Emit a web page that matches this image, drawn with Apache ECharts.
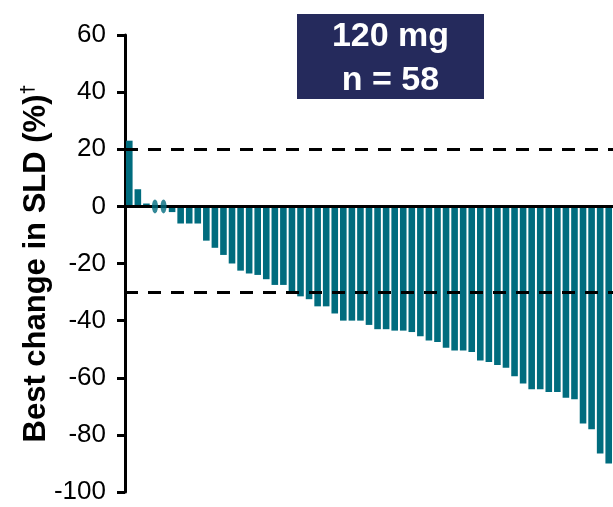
<!DOCTYPE html>
<html>
<head>
<meta charset="utf-8">
<script src="https://cdn.jsdelivr.net/npm/echarts@6/dist/echarts.min.js"></script>
<style>
  html, body { margin: 0; padding: 0; background: #fff; }
  #chart { width: 613px; height: 507px; }
</style>
</head>
<body>
<div id="chart"></div>
<script>
// ---- data ----
const patients = ["1","2","3","4","5","6","7","8","9","10","11","12","13","14","15","16","17","18","19","20",
  "21","22","23","24","25","26","27","28","29","30","31","32","33","34","35","36","37","38","39","40",
  "41","42","43","44","45","46","47","48","49","50","51","52","53","54","55","56","57"];
const bestChange = [23, 6, 1, null, null, -2, -6, -6, -6, -12, -14.5, -17, -20, -22.5, -23.5, -24, -25.5, -27.5, -27.5, -30,
  -31.5, -32.5, -35, -35, -37.5, -40, -40, -40, -41.5, -43, -43, -43.5, -43.5, -44, -45.5, -47, -47.5, -49.5, -50.5, -50.5,
  -51, -54, -54.5, -55.5, -56.5, -59.5, -62, -64, -64, -65, -65, -67, -67.5, -76, -78, -86.5, -90];
const zeroChangePatients = ["4", "5"];   // 0% change, drawn as ovals
const thresholds = [20, -30];            // dashed reference lines
const yTicks = { min: -100, max: 60, interval: 20 };
const boxLines = ["120 mg", "n = 58"];

const FONT = '"Liberation Sans", Arial, sans-serif';
const TEAL = '#006C7E';

const chart = echarts.init(document.getElementById('chart'), null, { renderer: 'canvas' });
chart.setOption({
  animation: false,
  backgroundColor: '#fff',
  grid: { left: 125, right: 0, top: 35, bottom: 15, containLabel: false },
  xAxis: {
    type: 'category',
    data: patients,
    boundaryGap: true,
    axisLine: { show: false },
    axisTick: { show: false },
    axisLabel: { show: false },
    splitLine: { show: false }
  },
  yAxis: {
    type: 'value',
    min: yTicks.min, max: yTicks.max, interval: yTicks.interval,
    name: '{m|Best change in SLD (%)}{s|†}',
    nameLocation: 'middle',
    nameGap: 72,
    nameMoveOverlap: false,
    nameTextStyle: {
      rich: {
        m: { fontFamily: FONT, fontSize: 31, fontWeight: 'bold', color: '#000' },
        s: { fontFamily: FONT, fontSize: 18, fontWeight: 'bold', color: '#000', verticalAlign: 'top', padding: [0,0,16,0] }
      }
    },
    axisLine: { show: true, lineStyle: { color: '#000', width: 3 } },
    axisTick: { show: true, length: 8, inside: false, lineStyle: { color: '#000', width: 3 } },
    axisLabel: { fontFamily: FONT, fontSize: 26, color: '#000', margin: 19, padding: [5, 0, 0, 0] },
    splitLine: { show: false }
  },
  series: [
    {
      type: 'bar',
      data: bestChange,
      barWidth: 6.6,
      itemStyle: { color: TEAL },
      z: 2,
      markLine: {
        silent: true,
        symbol: ['none', 'none'],
        label: { show: false },
        animation: false,
        data: [
          { yAxis: 0, lineStyle: { color: '#000', width: 3, type: 'solid' } }
        ].concat(thresholds.map(v => ({ yAxis: v, lineStyle: { color: '#000', width: 3, type: [13, 10] } })))
      }
    },
    {
      type: 'scatter',
      data: zeroChangePatients.map(p => [p, 0]),
      symbol: 'circle',
      symbolSize: [6, 14],
      itemStyle: { color: TEAL },
      z: 5
    }
  ],
  graphic: [
    {
      type: 'group',
      left: 297, top: 14,
      children: [
        { type: 'rect', shape: { x: 0, y: 0, width: 187, height: 85 }, style: { fill: '#252A5C' } },
        { type: 'text', x: 93.5, y: 23, style: { text: boxLines[0], fill: '#fff', font: 'bold 34px ' + FONT, textAlign: 'center', textVerticalAlign: 'middle' } },
        { type: 'text', x: 93.5, y: 67, style: { text: boxLines[1], fill: '#fff', font: 'bold 34px ' + FONT, textAlign: 'center', textVerticalAlign: 'middle' } }
      ]
    }
  ]
});
</script>
</body>
</html>
